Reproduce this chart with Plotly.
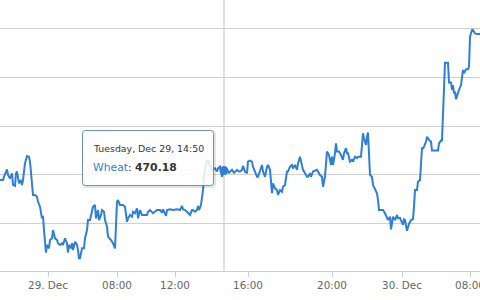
import plotly.graph_objects as go

# ordinal slot (Highcharts-style ordinal axis, gaps removed) and wheat price
slot = [0, 3, 4, 7, 8, 10, 12, 13, 15, 16, 17, 19, 21, 22, 23, 25, 27, 29, 30, 32,
        33, 35, 37, 38, 40, 42, 43, 44, 46, 47, 49, 50, 52, 53, 55, 57, 58, 60, 62, 63,
        65, 67, 68, 69, 71, 72, 73, 75, 77, 78, 79,
        80, 82, 84, 85, 87, 88, 90, 92, 93, 95, 96, 98, 99, 101, 102, 104, 105, 107, 108,
        111, 113, 115, 117, 118, 120, 123, 125, 127, 128, 130, 132, 133, 135, 137, 138,
        140, 142, 143, 147, 148, 150, 153, 157,
        160, 162, 163, 166, 167, 170, 173, 177, 180, 182, 183, 185, 187, 188, 190, 192,
        193, 195, 197, 198, 199, 201, 203, 204, 206, 208, 210, 212, 213, 215, 217, 218,
        220, 222, 224, 227, 229, 232, 234, 237, 239,
        240, 242, 243, 245, 247, 248, 250, 252, 253, 255, 257, 258, 260, 262, 263, 265,
        267, 268, 270, 272, 273, 275, 277, 278, 280, 282, 283, 285, 287, 288, 290, 292,
        293, 295, 297, 298, 300, 302, 303, 305, 307, 308, 310, 311, 313, 317, 318,
        320, 322, 323, 325, 327, 329, 331, 332, 333, 335, 336, 337, 339, 341, 343, 344,
        346, 347, 348, 350, 352, 353, 355, 357, 358, 361, 362, 363, 364, 366, 367, 368,
        370, 372, 373, 375, 377, 378, 379, 382, 383, 385, 387, 388, 390, 391, 393, 395,
        397, 398,
        400, 402, 403, 404, 405, 407, 409, 411, 413, 414, 415, 417, 418, 420, 421, 422,
        423, 424, 426, 427, 429, 431, 432, 435, 438, 439, 441, 442, 443, 444, 445, 447,
        448, 449, 451, 452, 453, 454, 455, 456, 457, 459, 461, 462, 463, 464, 466, 468,
        469, 470, 472, 473, 475, 477, 480]

wheat = [469.79, 469.79, 469.93, 470.23, 470.00, 469.86, 470.07, 469.59, 469.55, 470.07,
         470.14, 469.66, 469.79, 469.59, 469.79, 470.48, 470.78, 470.75, 470.55, 469.79,
         469.18, 469.18, 469.11, 468.90, 468.70, 468.22, 468.32, 467.74, 466.81, 467.13,
         466.99, 467.33, 467.40, 467.74, 467.40, 467.33, 467.20, 467.13, 467.20, 467.13,
         467.40, 467.20, 466.81, 467.13, 466.99, 467.20, 466.92, 467.26, 467.13, 466.92,
         466.58,
         466.58, 466.99, 466.99, 467.40, 467.74, 468.15, 468.15, 468.49, 468.70, 468.77,
         468.22, 468.56, 468.15, 468.36, 468.56, 468.49, 468.15, 467.88, 467.47,
         467.33, 467.20, 466.99, 468.90, 468.97, 468.77, 468.77, 468.70, 468.08, 468.22,
         468.36, 468.29, 468.49, 468.43, 468.63, 468.22,
         468.56, 468.36, 468.36, 468.36, 468.49, 468.56, 468.43, 468.56,
         468.56, 468.45, 468.59, 468.32, 468.56, 468.59, 468.56, 468.59, 468.56, 468.73,
         468.59, 468.56, 468.49, 468.43, 468.36, 468.56,
         468.56, 468.49, 468.56, 468.73, 468.56, 468.77, 469.38, 469.93, 470.48, 470.59,
         470.41, 470.21, 470.23, 470.27, 470.14, 470.27,
         470.34, 469.93, 470.18, 470.21, 470.09, 470.21, 470.09, 470.21, 470.14,
         470.14, 470.21, 470.37, 470.14, 470.07, 470.55, 470.59, 470.55, 470.34, 470.14,
         469.93, 469.93, 470.14, 470.41, 470.14, 469.93,
         470.34, 470.41, 470.21, 469.25, 469.66, 469.45, 469.38, 469.18, 469.38, 469.31,
         469.52, 469.59, 470.14, 470.14, 470.34, 470.41,
         470.27, 470.41, 470.21, 470.48, 470.75, 470.34, 470.21, 470.07, 469.93, 469.93,
         470.07, 469.93, 470.14, 470.21, 470.14,
         470.00, 469.93, 469.52, 469.93, 470.96, 470.82, 470.41, 470.75, 470.41, 470.89,
         471.30, 470.96, 470.96, 470.82, 470.62, 470.89,
         471.10, 470.89, 470.89, 470.55, 470.62, 470.55, 470.75, 470.69, 470.75, 470.75,
         471.30, 471.71, 471.51, 471.23, 471.57, 471.74,
         470.00, 469.93, 469.59, 469.38, 469.25, 468.97, 468.56, 468.56, 468.56, 468.43,
         468.22, 468.15, 468.29, 467.77, 468.29, 468.15,
         468.36, 468.22,
         468.24, 468.08, 467.95, 468.18, 468.15, 467.71, 467.99, 468.15, 468.18, 468.70,
         469.38, 469.38, 469.73, 469.79, 470.34, 471.10,
         471.10, 471.16, 471.37, 471.57, 471.44, 471.37, 471.00, 471.00, 471.00, 471.30,
         471.41, 471.41, 472.53, 473.62, 474.61, 474.61,
         474.61, 473.79, 473.79, 473.49, 473.69, 473.35, 473.42, 473.11, 473.28, 473.49,
         473.69, 474.03, 474.31, 474.17, 474.34, 474.34,
         474.44, 475.67, 475.95, 475.95, 475.81, 475.78, 475.78]

tick_slots = [48, 117, 175, 248, 332, 402, 470]
tick_labels = ["29. Dec", "08:00", "12:00", "16:00", "20:00", "30. Dec", "08:00"]

series_name = "Wheat"
hover_slot = 224
hover_header = "Tuesday, Dec 29, 14:50"

y_range = [466.06, 477.18]
x_range = [0, 480]

LINE = "#2f7ed8"
W, H = 480, 300
PLOT_H = 271

hover_value = wheat[slot.index(hover_slot)]


def pxx(x):
    return x / W


def pxy(y):
    return 1 - y / PLOT_H


def rounded_path(x0, y0, x1, y1, r):
    pts = [
        ("M", [(x0 + r, y0)]),
        ("L", [(x1 - r, y0)]),
        ("Q", [(x1, y0), (x1, y0 + r)]),
        ("L", [(x1, y1 - r)]),
        ("Q", [(x1, y1), (x1 - r, y1)]),
        ("L", [(x0 + r, y1)]),
        ("Q", [(x0, y1), (x0, y1 - r)]),
        ("L", [(x0, y0 + r)]),
        ("Q", [(x0, y0), (x0 + r, y0)]),
    ]
    s = ""
    for cmd, ps in pts:
        s += cmd + " " + " ".join(f"{pxx(a):.5f},{pxy(b):.5f}" for a, b in ps) + " "
    return s + "Z"


fig = go.Figure()
fig.add_trace(go.Scatter(x=slot, y=wheat, mode="lines", name=series_name,
                         line=dict(color=LINE, width=2), hoverinfo="skip"))
fig.add_trace(go.Scatter(x=[hover_slot], y=[hover_value], mode="markers",
                         marker=dict(size=9, color=LINE), hoverinfo="skip",
                         showlegend=False))

shapes = [
    dict(type="line", xref="x", yref="paper", x0=hover_slot, x1=hover_slot, y0=0, y1=1,
         line=dict(color="#C0C0C0", width=1), layer="below"),
    dict(type="path", xref="paper", yref="paper",
         path=rounded_path(83.5, 131.5, 214.5, 186.5, 3),
         line=dict(color="rgba(0,0,0,0.10)", width=3), fillcolor="rgba(0,0,0,0)",
         layer="above"),
    dict(type="path", xref="paper", yref="paper",
         path=rounded_path(82.5, 130.5, 213.5, 185.5, 3),
         line=dict(color="#6f8fb5", width=1), fillcolor="rgba(255,255,255,0.85)",
         layer="above"),
]

annotations = [
    dict(xref="paper", yref="paper", x=pxx(90.5), y=pxy(148), xanchor="left",
         yanchor="middle", showarrow=False, text=hover_header,
         font=dict(family="DejaVu Sans", size=9.4, color="#333333")),
    dict(xref="paper", yref="paper", x=pxx(90.5), y=pxy(167.5), xanchor="left",
         yanchor="middle", showarrow=False,
         text=f"<span style='color:{LINE}'>{series_name}</span>: <b>{hover_value:.2f}</b>",
         font=dict(family="DejaVu Sans", size=10.8, color="#333333")),
]

fig.update_layout(
    width=W, height=H,
    margin=dict(l=0, r=0, t=0, b=H - PLOT_H, pad=0),
    paper_bgcolor="white", plot_bgcolor="white",
    showlegend=False,
    shapes=shapes,
    annotations=annotations,
    xaxis=dict(range=x_range, showgrid=False, zeroline=False, showline=True,
               linecolor="#C0D0E0", linewidth=1, ticks="outside", ticklen=5,
               tickcolor="#C0D0E0", tickvals=tick_slots, ticktext=tick_labels,
               ticklabeloverflow="allow",
               tickfont=dict(family="DejaVu Sans", size=10.4, color="#666666"),
               automargin=False, fixedrange=True),
    yaxis=dict(range=y_range, dtick=2, tick0=0, showgrid=True, gridcolor="#D0D0D0",
               gridwidth=1, zeroline=False, showline=False, showticklabels=False,
               ticks="", automargin=False, fixedrange=True),
)

fig.write_html("out.html", config={"displayModeBar": False})
